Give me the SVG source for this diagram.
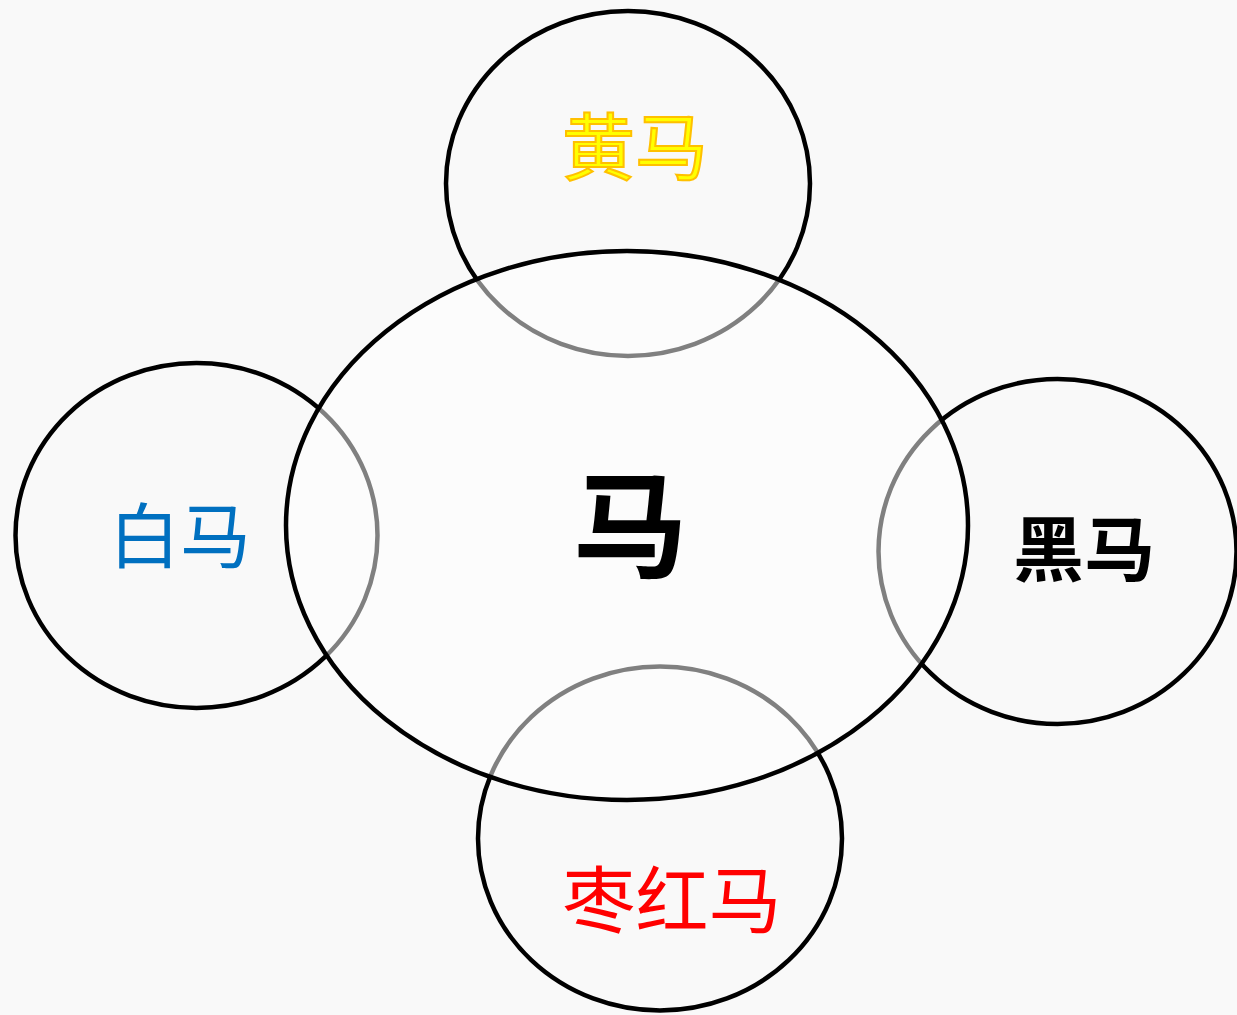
<svg xmlns="http://www.w3.org/2000/svg" width="1237" height="1015" viewBox="0 0 1237 1015">
<style>
.sm{fill:none;stroke:#000;stroke-width:4.5}
.big{fill:#fff;fill-opacity:0.5;stroke:#000;stroke-width:4.5}
.t{font-family:"Noto Sans CJK SC","Noto Sans CJK TC",sans-serif;text-anchor:middle;dominant-baseline:central}
</style>
<rect x="0" y="0" width="1237" height="1015" fill="#f9f9f9"/>
<g id="node-yellow"><ellipse class="sm" cx="628" cy="183.5" rx="182" ry="172.5"/></g>
<g id="node-white"><ellipse class="sm" cx="196.5" cy="535.5" rx="181" ry="172.5"/></g>
<g id="node-black"><ellipse class="sm" cx="1057.5" cy="551.5" rx="179" ry="172.5"/></g>
<g id="node-red"><ellipse class="sm" cx="660" cy="838.5" rx="182" ry="172"/></g>
<g id="node-horse"><ellipse class="big" cx="627" cy="525.5" rx="341" ry="274.5"/>
<text class="t" x="630" y="518" font-size="115" font-weight="bold" fill="#000">马</text></g>
<g id="labels">
<text class="t" x="635" y="142" font-size="73" fill="#ffff00" stroke="#ffc000" stroke-width="2">黄马</text>
<text class="t" x="180" y="531" font-size="71" fill="#0070c0">白马</text>
<text class="t" x="1084" y="544" font-size="71" font-weight="bold" fill="#000">黑马</text>
<text class="t" x="672" y="895" font-size="73" fill="#ff0000">枣红马</text>
</g>
</svg>
